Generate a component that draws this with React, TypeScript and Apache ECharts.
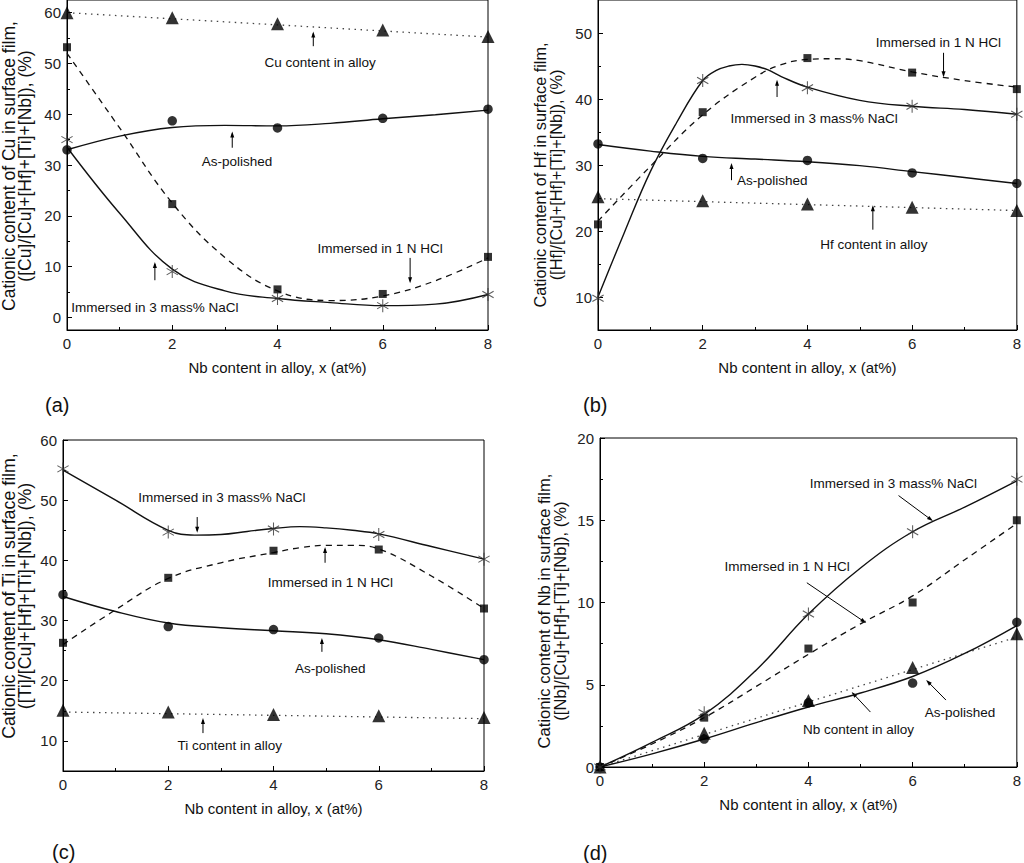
import React, { useEffect, useRef } from 'react';
import * as echarts from 'echarts';

const FONT = '"Liberation Sans", Arial, Helvetica, sans-serif';

// Nb content of the alloys, x (at%)
const nbContent = [0, 2, 4, 6, 8];
const xTicks = [0, 2, 4, 6, 8];

// (a) cationic content of Cu
const cuAlloy = [60, 59, 57.8, 56.6, 55.3];
const cuPolished = [33, 38.7, 37.3, 39.2, 41];
const cuHcl = [53.2, 22.3, 5.5, 4.6, 11.9];
const cuNacl = [35, 9, 3.7, 2.3, 4.5];
const cuAlloyFit = [[0, 60], [8, 55.2]];
const cuPolishedFit = [[0, 33], [1, 35.7], [2, 37.4], [3, 37.8], [4, 37.7], [5, 38.2], [6, 39.1], [7, 39.9], [8, 40.8]];
const cuHclFit = [[0, 52], [1, 37.3], [2, 22.5], [3, 11.8], [4, 5.2], [5, 3.3], [6, 4.2], [7, 7.2], [8, 11.7]];
const cuNaclFit = [[0, 33.5], [1, 20.5], [2, 9.5], [3, 5.2], [4, 3.7], [5, 2.9], [6, 2.3], [7, 2.6], [8, 4.5]];

// (b) cationic content of Hf
const hfAlloy = [25.2, 24.6, 24.1, 23.6, 23.1];
const hfPolished = [33.2, 31.0, 30.7, 28.8, 27.2];
const hfHcl = [21, 38, 46.2, 44, 41.5];
const hfNacl = [9.8, 42.8, 41.7, 38.9, 37.7];
const hfAlloyFit = [[0, 24.9], [8, 23.1]];
const hfPolishedFit = [[0, 33.1], [1, 32.1], [2, 31.3], [3, 30.9], [4, 30.5], [5, 29.9], [6, 29.0], [7, 28.1], [8, 27.2]];
const hfHclFit = [[0, 21.5], [1, 29.8], [2, 37.6], [3, 43.3], [3.5, 45.2], [4, 46], [4.5, 46.1], [5, 45.8], [6, 44.1], [7, 42.8], [8, 41.8]];
const hfNaclFit = [[0, 10], [0.5, 19.7], [1, 29], [1.5, 36.4], [2, 42.8], [2.25, 44.3], [2.5, 45.0], [2.75, 45.25], [3, 45.0], [3.25, 44.4], [3.5, 43.4], [4, 41.8], [5, 39.8], [6, 38.9], [7, 38.4], [8, 37.7]];

// (c) cationic content of Ti
const tiAlloy = [15.1, 14.8, 14.4, 14.2, 13.9];
const tiPolished = [34.3, 29.0, 28.5, 27.1, 23.5];
const tiHcl = [26.3, 37.1, 41.6, 41.8, 32.0];
const tiNacl = [55.2, 44.7, 45.2, 44.3, 40.2];
const tiAlloyFit = [[0, 14.8], [8, 13.7]];
const tiPolishedFit = [[0, 34.0], [1, 31.5], [2, 29.6], [3, 28.8], [4, 28.3], [5, 27.8], [6, 26.8], [7, 25.2], [8, 23.5]];
const tiHclFit = [[0, 26], [1, 31.8], [2, 37], [3, 39.6], [4, 41.3], [4.5, 42.1], [5, 42.5], [5.5, 42.5], [6, 41.9], [7, 37.4], [8, 32]];
const tiNaclFit = [[0, 55], [1, 50], [2, 45], [2.5, 44.2], [3, 44.3], [3.5, 44.8], [4, 45.3], [4.5, 45.6], [5, 45.4], [5.5, 45.0], [6, 44.4], [7, 42.3], [8, 40.2]];

// (d) cationic content of Nb
const nbAlloy = [0, 2.05, 4.05, 6.05, 8.1];
const nbPolished = [0, 1.7, 3.9, 5.1, 8.8];
const nbHcl = [0, 3.0, 7.2, 10.0, 15.0];
const nbNacl = [0, 3.3, 9.3, 14.3, 17.5];
const nbAlloyFit = [[0, 0], [8, 7.9]];
const nbPolishedFit = [[0, 0], [1, 0.8], [2, 1.7], [3, 2.7], [4, 3.65], [5, 4.5], [6, 5.5], [7, 6.9], [8, 8.6]];
const nbHclFit = [[0, 0], [1, 1.4], [2, 3.0], [3, 4.9], [4, 6.85], [5, 8.7], [6, 10.4], [7, 12.6], [8, 14.8]];
const nbNaclFit = [[0, 0], [1, 1.5], [2, 3.2], [3, 5.9], [4, 9.3], [5, 12.1], [6, 14.3], [7, 15.8], [8, 17.4]];

// asterisk marker built from three thin bars
const starPath = (() => {
  const w = 0.08;
  let d = '';
  [90, 30, 150].forEach((deg) => {
    const a = (deg * Math.PI) / 180;
    const dx = Math.cos(a), dy = Math.sin(a);
    const nx = -dy * w, ny = dx * w;
    const p = [
      [dx + nx, dy + ny], [dx - nx, dy - ny], [-dx - nx, -dy - ny], [-dx + nx, -dy + ny]
    ];
    d += 'M' + p.map((q) => q[0].toFixed(3) + ' ' + q[1].toFixed(3)).join(' L') + ' Z ';
  });
  return 'path://' + d;
})();

type Note = { text: string; at: number[]; arrow: number[][] };

const panels = [
  {
    grid: { left: 67, top: 0, width: 421, height: 330 },
    yMin: -2.5, yMax: 62.5,
    yMajor: [0, 10, 20, 30, 40, 50, 60],
    yMinor: [5, 15, 25, 35, 45, 55],
    alloy: cuAlloy, polished: cuPolished, hcl: cuHcl, nacl: cuNacl,
    alloyFit: cuAlloyFit, polishedFit: cuPolishedFit, hclFit: cuHclFit, naclFit: cuNaclFit,
    yName: 'Cationic content of Cu in surface film,\n([Cu]/[Cu]+[Hf]+[Ti]+[Nb]), (%)',
    yNameAt: [17, 166], yNameSize: 17.5,
    tag: '(a)', tagAt: [45, 405],
    notes: [
      { text: 'Cu content in alloy', at: [4.81, 50.2], arrow: [[4.68, 53.4], [4.68, 56.3]] },
      { text: 'As-polished', at: [3.23, 30.6], arrow: [[3.14, 33.4], [3.14, 36.6]] },
      { text: 'Immersed in 1 N HCl', at: [5.95, 13.6], arrow: [[6.52, 11.7], [6.52, 6.7]] },
      { text: 'Immersed in 3 mass% NaCl', at: [1.67, 2.0], arrow: [[1.67, 7.3], [1.67, 10.9]] }
    ] as Note[]
  },
  {
    grid: { left: 598, top: 0, width: 421, height: 330 },
    yMin: 5, yMax: 55,
    yMajor: [10, 20, 30, 40, 50],
    yMinor: [15, 25, 35, 45],
    alloy: hfAlloy, polished: hfPolished, hcl: hfHcl, nacl: hfNacl,
    alloyFit: hfAlloyFit, polishedFit: hfPolishedFit, hclFit: hfHclFit, naclFit: hfNaclFit,
    yName: 'Cationic content of Hf in surface film,\n([Hf]/[Cu]+[Hf]+[Ti]+[Nb]), (%)',
    yNameAt: [548, 175], yNameSize: 16.3,
    tag: '(b)', tagAt: [583, 405],
    notes: [
      { text: 'Immersed in 1 N HCl', at: [6.5, 48.5], arrow: [[6.6, 47.0], [6.6, 43.3]] },
      { text: 'Immersed in 3 mass% NaCl', at: [4.13, 37.1], arrow: [[3.42, 40.3], [3.42, 42.9]] },
      { text: 'As-polished', at: [3.33, 27.7], arrow: [[2.55, 27.7], [2.55, 30.3]] },
      { text: 'Hf content in alloy', at: [5.27, 17.9], arrow: [[5.25, 20.2], [5.25, 23.9]] }
    ] as Note[]
  },
  {
    grid: { left: 63, top: 440, width: 421, height: 331 },
    yMin: 5, yMax: 60,
    yMajor: [10, 20, 30, 40, 50, 60],
    yMinor: [15, 25, 35, 45, 55],
    alloy: tiAlloy, polished: tiPolished, hcl: tiHcl, nacl: tiNacl,
    alloyFit: tiAlloyFit, polishedFit: tiPolishedFit, hclFit: tiHclFit, naclFit: tiNaclFit,
    yName: 'Cationic content of Ti in surface film,\n([Ti]/[Cu]+[Hf]+[Ti]+[Nb]), (%)',
    yNameAt: [17, 596], yNameSize: 17.8,
    tag: '(c)', tagAt: [52, 852],
    notes: [
      { text: 'Immersed in 3 mass% NaCl', at: [3.02, 50.4], arrow: [[2.55, 47.2], [2.55, 44.6]] },
      { text: 'Immersed in 1 N HCl', at: [5.08, 36.4], arrow: [[4.98, 39.6], [4.98, 42.2]] },
      { text: 'As-polished', at: [5.08, 22.1], arrow: [[4.92, 24.8], [4.92, 27.1]] },
      { text: 'Ti content in alloy', at: [3.17, 9.3], arrow: [[2.66, 11.3], [2.66, 13.8]] }
    ] as Note[]
  },
  {
    grid: { left: 600, top: 438, width: 419, height: 329 },
    yMin: 0, yMax: 20,
    yMajor: [0, 5, 10, 15, 20],
    yMinor: [2.5, 7.5, 12.5, 17.5],
    alloy: nbAlloy, polished: nbPolished, hcl: nbHcl, nacl: nbNacl,
    alloyFit: nbAlloyFit, polishedFit: nbPolishedFit, hclFit: nbHclFit, naclFit: nbNaclFit,
    yName: 'Cationic content of Nb in surface film,\n([Nb]/[Cu]+[Hf]+[Ti]+[Nb]), (%)',
    yNameAt: [552, 611], yNameSize: 16.6,
    tag: '(d)', tagAt: [583, 853],
    notes: [
      { text: 'Immersed in 3 mass% NaCl', at: [5.63, 17.26], arrow: [[5.73, 16.5], [6.39, 14.95]] },
      { text: 'Immersed in 1 N HCl', at: [3.59, 12.2], arrow: [[3.97, 11.2], [5.11, 8.75]] },
      { text: 'As-polished', at: [6.91, 3.3], arrow: [[6.64, 4.07], [6.26, 5.29]] },
      { text: 'Nb content in alloy', at: [4.96, 2.25], arrow: [[5.19, 3.34], [4.83, 4.56]] }
    ] as Note[]
  }
];

const App: React.FC = () => {
  const chartRef = useRef<HTMLDivElement>(null);

  useEffect(() => {
    if (!chartRef.current) return;
    const chart = echarts.init(chartRef.current, undefined, { renderer: 'svg' });

    const grids: any[] = [];
    const xAxes: any[] = [];
    const yAxes: any[] = [];
    const series: any[] = [];

    panels.forEach((p, i) => {
      grids.push({ ...p.grid, show: true, borderColor: '#000', borderWidth: 1, containLabel: false });
      xAxes.push({
        type: 'value', gridIndex: i, min: 0, max: 8, interval: 2,
        name: 'Nb content in alloy, x (at%)', nameLocation: 'middle', nameGap: 30,
        nameTextStyle: { fontFamily: FONT, fontSize: 15, color: '#111' },
        axisLine: { show: true, onZero: false, lineStyle: { color: '#000', width: 1 } },
        axisTick: { show: true, inside: true, length: 5, lineStyle: { color: '#000' } },
        minorTick: { show: true, splitNumber: 2, length: 3, lineStyle: { color: '#000' } },
        axisLabel: {
          fontFamily: FONT, fontSize: 15, color: '#222', margin: 6,
          customValues: xTicks
        },
        splitLine: { show: false }
      });
      // main y axis
      yAxes.push({
        type: 'value', gridIndex: i, min: p.yMin, max: p.yMax,
        axisLine: { show: true, onZero: false, lineStyle: { color: '#000', width: 1 } },
        axisTick: { show: true, inside: true, length: 5, customValues: p.yMajor, lineStyle: { color: '#000' } },
        axisLabel: { fontFamily: FONT, fontSize: 15, color: '#222', margin: 6, customValues: p.yMajor },
        splitLine: { show: false }
      });
      // minor tick overlay
      yAxes.push({
        type: 'value', gridIndex: i, min: p.yMin, max: p.yMax, position: 'left',
        axisLine: { show: false, onZero: false },
        axisTick: { show: true, inside: true, length: 3, customValues: p.yMinor, lineStyle: { color: '#000' } },
        axisLabel: { show: false, customValues: p.yMinor },
        splitLine: { show: false }
      });

      const base = { xAxisIndex: i, yAxisIndex: 2 * i, silent: true, clip: true };
      series.push(
        { ...base, type: 'line', data: p.alloyFit, showSymbol: false, lineStyle: { color: '#444', width: 1.3, type: [1.5, 4.5] } },
        { ...base, type: 'line', data: p.polishedFit, smooth: 0.4, showSymbol: false, lineStyle: { color: '#111', width: 1.4 } },
        { ...base, type: 'line', data: p.hclFit, smooth: 0.4, showSymbol: false, lineStyle: { color: '#111', width: 1.3, type: [6, 5] } },
        { ...base, type: 'line', data: p.naclFit, smooth: 0.4, showSymbol: false, lineStyle: { color: '#111', width: 1.4 } },
        { ...base, type: 'scatter', data: nbContent.map((x, k) => [x, p.alloy[k]]), symbol: 'triangle', symbolSize: 13, itemStyle: { color: '#000' }, z: 5 },
        { ...base, type: 'scatter', data: nbContent.map((x, k) => [x, p.polished[k]]), symbol: 'circle', symbolSize: 9.5, itemStyle: { color: '#000' }, z: 5 },
        { ...base, type: 'scatter', data: nbContent.map((x, k) => [x, p.hcl[k]]), symbol: 'rect', symbolSize: 8, itemStyle: { color: '#000' }, z: 5 },
        { ...base, type: 'scatter', data: nbContent.map((x, k) => [x, p.nacl[k]]), symbol: starPath, symbolSize: 13, symbolKeepAspect: true, itemStyle: { color: '#333' }, z: 5 }
      );
    });

    chart.setOption({
      animation: false,
      backgroundColor: '#fff',
      grid: grids,
      xAxis: xAxes,
      yAxis: yAxes,
      series
    });

    // annotations, y names and panel tags
    const graphic: any[] = [];
    const textStyle = (text: string, size: number, align = 'center') => ({
      text, font: `${size}px ${FONT}`, fill: '#111',
      align, textAlign: align, verticalAlign: 'middle', textVerticalAlign: 'middle'
    });
    panels.forEach((p, i) => {
      const finder = { xAxisIndex: i, yAxisIndex: 2 * i };
      p.notes.forEach((n) => {
        const t = chart.convertToPixel(finder, n.at) as number[];
        graphic.push({ type: 'text', x: t[0], y: t[1], silent: true, style: textStyle(n.text, 13.5) });
        const a = chart.convertToPixel(finder, n.arrow[0]) as number[];
        const b = chart.convertToPixel(finder, n.arrow[1]) as number[];
        const len = Math.hypot(b[0] - a[0], b[1] - a[1]) || 1;
        const ux = (b[0] - a[0]) / len, uy = (b[1] - a[1]) / len;
        const hl = 6, hw = 2;
        graphic.push({
          type: 'line', silent: true,
          shape: { x1: a[0], y1: a[1], x2: b[0] - ux * 2, y2: b[1] - uy * 2 },
          style: { stroke: '#000', lineWidth: 1 }
        });
        graphic.push({
          type: 'polygon', silent: true,
          shape: {
            points: [
              [b[0], b[1]],
              [b[0] - ux * hl - uy * hw, b[1] - uy * hl + ux * hw],
              [b[0] - ux * hl + uy * hw, b[1] - uy * hl - ux * hw]
            ]
          },
          style: { fill: '#000' }
        });
      });
      graphic.push({
        type: 'text', x: p.yNameAt[0], y: p.yNameAt[1], rotation: Math.PI / 2, silent: true,
        style: { ...textStyle(p.yName, p.yNameSize), lineHeight: 16 }
      });
      graphic.push({
        type: 'text', x: p.tagAt[0], y: p.tagAt[1], silent: true,
        style: textStyle(p.tag, 20, 'left')
      });
    });
    chart.setOption({ graphic });

    return () => {
      chart.dispose();
    };
  }, []);

  return (
    <div
      ref={chartRef}
      style={{ position: 'absolute', left: 0, top: 0, width: 1024, height: 863 }}
    />
  );
};

export default App;
